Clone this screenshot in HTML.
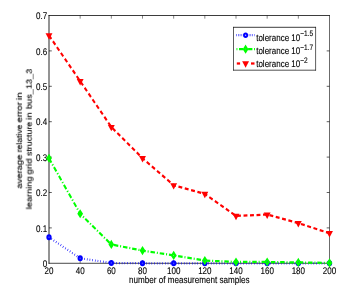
<!DOCTYPE html>
<html><head><meta charset="utf-8"><title>chart</title>
<style>
html,body{margin:0;padding:0;background:#fff;}
body{width:349px;height:291px;overflow:hidden;}
svg{display:block;}
text{font-family:"Liberation Sans",sans-serif;fill:#000;text-rendering:geometricPrecision;font-kerning:none;stroke:#000;stroke-width:0.1px;}
</style></head><body>
<svg width="349" height="291" viewBox="0 0 349 291">
<rect x="0" y="0" width="349" height="291" fill="#fff"/>
<defs><filter id="tb" x="-5%" y="-20%" width="110%" height="140%"><feGaussianBlur stdDeviation="0.25"/></filter></defs>
<g transform="scale(1,1.125)">
<line x1="49.00" x2="49.00" y1="13.42" y2="234.40" stroke="#000" stroke-width="0.8"/>
<line x1="329.50" x2="329.50" y1="13.42" y2="234.40" stroke="#000" stroke-width="0.55"/>
<line x1="48.60" x2="329.80" y1="13.78" y2="13.78" stroke="#000" stroke-width="0.72"/>
<line x1="48.60" x2="329.80" y1="234.04" y2="234.04" stroke="#000" stroke-width="0.68"/>
<text filter="url(#tb)" transform="translate(49.00,243.73) scale(1.0,1.08)" font-size="8" text-anchor="middle">20</text>
<line x1="80.17" x2="80.17" y1="234.04" y2="231.24" stroke="#000" stroke-width="0.45"/>
<line x1="80.17" x2="80.17" y1="13.78" y2="16.58" stroke="#000" stroke-width="0.45"/>
<text filter="url(#tb)" transform="translate(80.17,243.73) scale(1.0,1.08)" font-size="8" text-anchor="middle">40</text>
<line x1="111.33" x2="111.33" y1="234.04" y2="231.24" stroke="#000" stroke-width="0.45"/>
<line x1="111.33" x2="111.33" y1="13.78" y2="16.58" stroke="#000" stroke-width="0.45"/>
<text filter="url(#tb)" transform="translate(111.33,243.73) scale(1.0,1.08)" font-size="8" text-anchor="middle">60</text>
<line x1="142.50" x2="142.50" y1="234.04" y2="231.24" stroke="#000" stroke-width="0.45"/>
<line x1="142.50" x2="142.50" y1="13.78" y2="16.58" stroke="#000" stroke-width="0.45"/>
<text filter="url(#tb)" transform="translate(142.50,243.73) scale(1.0,1.08)" font-size="8" text-anchor="middle">80</text>
<line x1="173.67" x2="173.67" y1="234.04" y2="231.24" stroke="#000" stroke-width="0.45"/>
<line x1="173.67" x2="173.67" y1="13.78" y2="16.58" stroke="#000" stroke-width="0.45"/>
<text filter="url(#tb)" transform="translate(173.67,243.73) scale(1.0,1.08)" font-size="8" text-anchor="middle">100</text>
<line x1="204.83" x2="204.83" y1="234.04" y2="231.24" stroke="#000" stroke-width="0.45"/>
<line x1="204.83" x2="204.83" y1="13.78" y2="16.58" stroke="#000" stroke-width="0.45"/>
<text filter="url(#tb)" transform="translate(204.83,243.73) scale(1.0,1.08)" font-size="8" text-anchor="middle">120</text>
<line x1="236.00" x2="236.00" y1="234.04" y2="231.24" stroke="#000" stroke-width="0.45"/>
<line x1="236.00" x2="236.00" y1="13.78" y2="16.58" stroke="#000" stroke-width="0.45"/>
<text filter="url(#tb)" transform="translate(236.00,243.73) scale(1.0,1.08)" font-size="8" text-anchor="middle">140</text>
<line x1="267.17" x2="267.17" y1="234.04" y2="231.24" stroke="#000" stroke-width="0.45"/>
<line x1="267.17" x2="267.17" y1="13.78" y2="16.58" stroke="#000" stroke-width="0.45"/>
<text filter="url(#tb)" transform="translate(267.17,243.73) scale(1.0,1.08)" font-size="8" text-anchor="middle">160</text>
<line x1="298.33" x2="298.33" y1="234.04" y2="231.24" stroke="#000" stroke-width="0.45"/>
<line x1="298.33" x2="298.33" y1="13.78" y2="16.58" stroke="#000" stroke-width="0.45"/>
<text filter="url(#tb)" transform="translate(298.33,243.73) scale(1.0,1.08)" font-size="8" text-anchor="middle">180</text>
<text filter="url(#tb)" transform="translate(329.50,243.73) scale(1.0,1.08)" font-size="8" text-anchor="middle">200</text>
<text filter="url(#tb)" transform="translate(47.20,237.33) scale(1.0,1.08)" font-size="8" text-anchor="end">0</text>
<line x1="49.0" x2="51.8" y1="202.58" y2="202.58" stroke="#000" stroke-width="0.6"/>
<line x1="329.5" x2="326.7" y1="202.58" y2="202.58" stroke="#000" stroke-width="0.6"/>
<text filter="url(#tb)" transform="translate(47.20,205.87) scale(1.0,1.08)" font-size="8" text-anchor="end">0.1</text>
<line x1="49.0" x2="51.8" y1="171.11" y2="171.11" stroke="#000" stroke-width="0.6"/>
<line x1="329.5" x2="326.7" y1="171.11" y2="171.11" stroke="#000" stroke-width="0.6"/>
<text filter="url(#tb)" transform="translate(47.20,174.40) scale(1.0,1.08)" font-size="8" text-anchor="end">0.2</text>
<line x1="49.0" x2="51.8" y1="139.64" y2="139.64" stroke="#000" stroke-width="0.6"/>
<line x1="329.5" x2="326.7" y1="139.64" y2="139.64" stroke="#000" stroke-width="0.6"/>
<text filter="url(#tb)" transform="translate(47.20,142.93) scale(1.0,1.08)" font-size="8" text-anchor="end">0.3</text>
<line x1="49.0" x2="51.8" y1="108.18" y2="108.18" stroke="#000" stroke-width="0.6"/>
<line x1="329.5" x2="326.7" y1="108.18" y2="108.18" stroke="#000" stroke-width="0.6"/>
<text filter="url(#tb)" transform="translate(47.20,111.47) scale(1.0,1.08)" font-size="8" text-anchor="end">0.4</text>
<line x1="49.0" x2="51.8" y1="76.71" y2="76.71" stroke="#000" stroke-width="0.6"/>
<line x1="329.5" x2="326.7" y1="76.71" y2="76.71" stroke="#000" stroke-width="0.6"/>
<text filter="url(#tb)" transform="translate(47.20,80.00) scale(1.0,1.08)" font-size="8" text-anchor="end">0.5</text>
<line x1="49.0" x2="51.8" y1="45.24" y2="45.24" stroke="#000" stroke-width="0.6"/>
<line x1="329.5" x2="326.7" y1="45.24" y2="45.24" stroke="#000" stroke-width="0.6"/>
<text filter="url(#tb)" transform="translate(47.20,48.53) scale(1.0,1.08)" font-size="8" text-anchor="end">0.6</text>
<text filter="url(#tb)" transform="translate(47.20,17.07) scale(1.0,1.08)" font-size="8" text-anchor="end">0.7</text>
<polyline points="49.00,210.85 80.17,229.61 111.33,233.73 142.50,234.04 173.67,234.04 204.83,234.04 236.00,234.04 267.17,234.04 298.33,234.04 329.50,234.04" fill="none" stroke="#00f" stroke-width="2.0" stroke-dasharray="0.6 2.1"/>
<circle cx="49.00" cy="210.85" r="1.7" fill="#44f" stroke="#00f" stroke-width="1.9"/>
<circle cx="80.17" cy="229.61" r="1.7" fill="#44f" stroke="#00f" stroke-width="1.9"/>
<circle cx="111.33" cy="233.73" r="1.7" fill="#44f" stroke="#00f" stroke-width="1.9"/>
<circle cx="142.50" cy="234.04" r="1.7" fill="#44f" stroke="#00f" stroke-width="1.9"/>
<circle cx="173.67" cy="234.04" r="1.7" fill="#44f" stroke="#00f" stroke-width="1.9"/>
<circle cx="204.83" cy="234.04" r="1.7" fill="#44f" stroke="#00f" stroke-width="1.9"/>
<circle cx="236.00" cy="234.04" r="1.7" fill="#44f" stroke="#00f" stroke-width="1.9"/>
<circle cx="267.17" cy="234.04" r="1.7" fill="#44f" stroke="#00f" stroke-width="1.9"/>
<circle cx="298.33" cy="234.04" r="1.7" fill="#44f" stroke="#00f" stroke-width="1.9"/>
<circle cx="329.50" cy="234.04" r="1.7" fill="#44f" stroke="#00f" stroke-width="1.9"/>
<polyline points="49.00,140.68 80.17,189.99 111.33,217.30 142.50,222.72 173.67,227.03 204.83,231.59 236.00,232.88 267.17,232.88 298.33,233.26 329.50,233.67" fill="none" stroke="#0f0" stroke-width="2.0" stroke-dasharray="4.5 1.9 1 1.9"/>
<path d="M49.00,138.33 L50.65,140.68 L49.00,143.03 L47.35,140.68 Z" fill="none" stroke="#0f0" stroke-width="2.0" stroke-linejoin="miter"/>
<path d="M80.17,187.64 L81.82,189.99 L80.17,192.34 L78.52,189.99 Z" fill="none" stroke="#0f0" stroke-width="2.0" stroke-linejoin="miter"/>
<path d="M111.33,214.95 L112.98,217.30 L111.33,219.65 L109.68,217.30 Z" fill="none" stroke="#0f0" stroke-width="2.0" stroke-linejoin="miter"/>
<path d="M142.50,220.37 L144.15,222.72 L142.50,225.07 L140.85,222.72 Z" fill="none" stroke="#0f0" stroke-width="2.0" stroke-linejoin="miter"/>
<path d="M173.67,224.68 L175.32,227.03 L173.67,229.38 L172.02,227.03 Z" fill="none" stroke="#0f0" stroke-width="2.0" stroke-linejoin="miter"/>
<path d="M204.83,229.24 L206.48,231.59 L204.83,233.94 L203.18,231.59 Z" fill="none" stroke="#0f0" stroke-width="2.0" stroke-linejoin="miter"/>
<path d="M236.00,230.53 L237.65,232.88 L236.00,235.23 L234.35,232.88 Z" fill="none" stroke="#0f0" stroke-width="2.0" stroke-linejoin="miter"/>
<path d="M267.17,230.53 L268.82,232.88 L267.17,235.23 L265.52,232.88 Z" fill="none" stroke="#0f0" stroke-width="2.0" stroke-linejoin="miter"/>
<path d="M298.33,230.91 L299.98,233.26 L298.33,235.61 L296.68,233.26 Z" fill="none" stroke="#0f0" stroke-width="2.0" stroke-linejoin="miter"/>
<path d="M329.50,231.32 L331.15,233.67 L329.50,236.02 L327.85,233.67 Z" fill="none" stroke="#0f0" stroke-width="2.0" stroke-linejoin="miter"/>
<polyline points="49.00,31.56 80.17,72.12 111.33,112.90 142.50,140.59 173.67,164.69 204.83,172.37 236.00,191.94 267.17,190.71 298.33,198.33 329.50,207.30" fill="none" stroke="#f00" stroke-width="2.0" stroke-dasharray="3.9 2.6"/>
<path d="M45.55,29.66 L52.45,29.66 L49.00,35.41 Z" fill="#f00" stroke="none"/>
<path d="M76.72,70.22 L83.62,70.22 L80.17,75.97 Z" fill="#f00" stroke="none"/>
<path d="M107.88,111.00 L114.78,111.00 L111.33,116.75 Z" fill="#f00" stroke="none"/>
<path d="M139.05,138.69 L145.95,138.69 L142.50,144.44 Z" fill="#f00" stroke="none"/>
<path d="M170.22,162.79 L177.12,162.79 L173.67,168.54 Z" fill="#f00" stroke="none"/>
<path d="M201.38,170.47 L208.28,170.47 L204.83,176.22 Z" fill="#f00" stroke="none"/>
<path d="M232.55,190.04 L239.45,190.04 L236.00,195.79 Z" fill="#f00" stroke="none"/>
<path d="M263.72,188.81 L270.62,188.81 L267.17,194.56 Z" fill="#f00" stroke="none"/>
<path d="M294.88,196.43 L301.78,196.43 L298.33,202.18 Z" fill="#f00" stroke="none"/>
<path d="M326.05,205.40 L332.95,205.40 L329.50,211.15 Z" fill="#f00" stroke="none"/>
<text filter="url(#tb)" transform="translate(189.25,251.91) scale(1.012,1.08)" font-size="8" text-anchor="middle">number of measurement samples</text>
<text filter="url(#tb)" transform="translate(21.9,167.64) rotate(-90) scale(1.0444,0.97)" font-size="8" style="font-kerning:none">average</text>
<text filter="url(#tb)" transform="translate(21.9,135.35) rotate(-90) scale(0.9495,0.97)" font-size="8" style="font-kerning:none">relative</text>
<text filter="url(#tb)" transform="translate(21.9,108.90) rotate(-90) scale(1.0774,0.97)" font-size="8" style="font-kerning:none">error</text>
<text filter="url(#tb)" transform="translate(21.9,89.05) rotate(-90) scale(1.1343,0.97)" font-size="8" style="font-kerning:none">in</text>
<text filter="url(#tb)" transform="translate(31.7,186.06) rotate(-90) scale(1.0248,0.97)" font-size="8" style="font-kerning:none">learning</text>
<text filter="url(#tb)" transform="translate(31.7,155.12) rotate(-90) scale(1.0748,0.97)" font-size="8" style="font-kerning:none">grid</text>
<text filter="url(#tb)" transform="translate(31.7,138.62) rotate(-90) scale(0.9779,0.97)" font-size="8" style="font-kerning:none">structure</text>
<text filter="url(#tb)" transform="translate(31.7,106.53) rotate(-90) scale(1.0656,0.97)" font-size="8" style="font-kerning:none">in</text>
<text filter="url(#tb)" transform="translate(31.7,96.97) rotate(-90) scale(1.0191,0.97)" font-size="8" style="font-kerning:none">bus_13_3</text>
<rect x="233.5" y="24.27" width="82.10" height="38.13" fill="#fff" stroke="none"/>
<line x1="233.50" x2="233.50" y1="23.91" y2="62.76" stroke="#000" stroke-width="0.6"/>
<line x1="315.60" x2="315.60" y1="23.91" y2="62.76" stroke="#000" stroke-width="0.6"/>
<line x1="233.20" x2="315.90" y1="24.27" y2="24.27" stroke="#000" stroke-width="0.72"/>
<line x1="233.20" x2="315.90" y1="62.40" y2="62.40" stroke="#000" stroke-width="0.65"/>
<line x1="236.2" x2="254.6" y1="31.29" y2="31.29" stroke="#00f" stroke-width="2.0" stroke-dasharray="0.5 1.3"/>
<circle cx="245.6" cy="31.29" r="1.6" fill="#bbf" stroke="#00f" stroke-width="1.75"/>
<text filter="url(#tb)" transform="translate(256.20,36.09) scale(1.0,1.08)" font-size="8" text-anchor="start">tolerance 10<tspan font-size="6.6" dy="-3.5">&#8722;1.5</tspan></text>
<line x1="236.5" x2="255.0" y1="43.73" y2="43.73" stroke="#0f0" stroke-width="2.0" stroke-dasharray="0.9 1.6 4.3 1.9 1 1.9 4.3 1.6 0.9 5"/>
<path d="M245.60,41.38 L247.25,43.73 L245.60,46.08 L243.95,43.73 Z" fill="none" stroke="#0f0" stroke-width="2.0"/>
<text filter="url(#tb)" transform="translate(256.20,48.00) scale(1.0,1.08)" font-size="8" text-anchor="start">tolerance 10<tspan font-size="6.6" dy="-3.5">&#8722;1.7</tspan></text>
<line x1="236.8" x2="240.1" y1="56.44" y2="56.44" stroke="#f00" stroke-width="2.0"/>
<line x1="251.0" x2="254.5" y1="56.44" y2="56.44" stroke="#f00" stroke-width="2.0"/>
<path d="M242.15,54.54 L249.05,54.54 L245.60,60.29 Z" fill="#f00" stroke="none"/>
<text filter="url(#tb)" transform="translate(256.20,59.91) scale(1.0,1.08)" font-size="8" text-anchor="start">tolerance 10<tspan font-size="6.6" dy="-3.5">&#8722;2</tspan></text>
</g></svg></body></html>
